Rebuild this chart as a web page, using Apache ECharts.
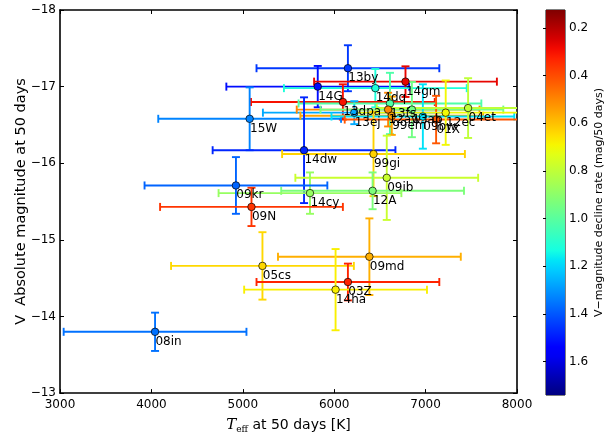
<!DOCTYPE html>
<html><head><meta charset="utf-8">
<script src="https://cdn.jsdelivr.net/npm/echarts@6/dist/echarts.min.js"></script>
<style>html,body{margin:0;padding:0;background:#fff}#c{width:612px;height:439px}</style>
</head><body><div id="c"></div>
<script>
// ---- data ----
const names   = ["13by","14G","14gm","14dq","13dpa","15W","13ej","13fs","12aw","13ab","99em","09bw","01X","12ec","04et","14dw","99gi","09ib","12A","14cy","09kr","09N","05cs","09md","03Z","14ha","08in"];
const teff    = [6150,5820,6780,6450,6095,5075,6220,6610,6590,6850,6630,6970,7115,7220,7465,5670,6430,6575,6420,5735,4925,5095,5215,6385,6150,6015,4040];
const teffErr = [1000,1000,1000,1000,1005,1000,1000,1000,1000,1000,1000,1000,1000,1000,1000,1000,1000,1000,1000,1000,1000,1000,1000,1000,1000,1000,1000];
const mag     = [-17.24,-17.00,-17.065,-16.98,-16.80,-16.58,-16.66,-16.78,-16.70,-16.70,-16.62,-16.61,-16.57,-16.66,-16.72,-16.17,-16.12,-15.81,-15.64,-15.61,-15.71,-15.43,-14.66,-14.78,-14.45,-14.35,-13.80];
const magErr  = [0.30,0.27,0.20,0.25,0.23,0.41,0.15,0.40,0.22,0.36,0.25,0.42,0.31,0.42,0.39,0.69,0.55,0.55,0.24,0.27,0.37,0.25,0.44,0.50,0.24,0.53,0.25];
const rate    = [1.45,1.52,0.27,1.12,0.30,1.33,1.27,1.02,0.50,0.95,0.55,1.18,0.42,0.70,0.80,1.48,0.63,0.78,0.93,0.88,1.38,0.36,0.64,0.57,0.33,0.68,1.36];
const xTicks  = [3000,4000,5000,6000,7000,8000];
const yTicks  = [-18,-17,-16,-15,-14,-13];
const cbTicks = [0.2,0.4,0.6,0.8,1.0,1.2,1.4,1.6];
const cbMin = 0.125, cbMax = 1.74;

// ---- jet colormap ----
function interp(pts, f){
  for (let i=1;i<pts.length;i++){
    if (f<=pts[i][0]){const a=pts[i-1],b=pts[i];return a[1]+(b[1]-a[1])*(f-a[0])/(b[0]-a[0]);}
  }
  return pts[pts.length-1][1];
}
function jet(f){
  const r=interp([[0,0],[0.35,0],[0.66,1],[0.89,1],[1,0.5]],f);
  const g=interp([[0,0],[0.125,0],[0.375,1],[0.64,1],[0.91,0],[1,0]],f);
  const b=interp([[0,0.5],[0.11,1],[0.34,1],[0.65,0],[1,0]],f);
  const h=v=>Math.round(Math.max(0,Math.min(1,v))*255).toString(16).padStart(2,'0');
  return '#'+h(r)+h(g)+h(b);
}
const N=41;
const mapColors=[]; const stops=[];
for(let i=0;i<N;i++){const k=i/(N-1);mapColors.push(jet(1-k));stops.push({offset:k,color:jet(1-k)});}

const data = teff.map((t,i)=>[t,mag[i],rate[i],teffErr[i],magErr[i],names[i]]);
const FONT='DejaVu Sans';
const minus=v=>(v<0?'\u2212':'')+Math.abs(v);

const chart = echarts.init(document.getElementById('c'),null,{renderer:'canvas'});
chart.setOption({
  animation:false,
  backgroundColor:'#fff',
  textStyle:{fontFamily:FONT},
  grid:[
    {left:60,top:10,width:457,height:385,show:false},
    {left:546,top:10,width:19,height:385,show:true,borderColor:'#000',borderWidth:1,backgroundColor:'transparent'}
  ],
  visualMap:{type:'continuous',show:false,min:cbMin,max:cbMax,dimension:2,seriesIndex:[0,1],inRange:{color:mapColors}},
  xAxis:[
    {gridIndex:0,type:'value',min:xTicks[0],max:xTicks[xTicks.length-1],interval:1000,position:'bottom',
     axisLine:{show:true,onZero:false,lineStyle:{color:'#000',width:1.6}},
     axisTick:{show:true,inside:true,length:4,lineStyle:{color:'#000',width:1}},
     axisLabel:{color:'#000',fontSize:12,fontFamily:FONT,margin:6,formatter:v=>String(v)},
     splitLine:{show:false},
     name:'{t|T}{s|eff} at 50 days [K]',nameLocation:'middle',nameGap:11,
     nameTextStyle:{fontSize:14,fontFamily:FONT,color:'#000',lineHeight:18,
       rich:{t:{fontFamily:'DejaVu Serif',fontStyle:'italic',fontSize:15,lineHeight:18,color:'#000'},
             s:{fontFamily:'DejaVu Serif',fontSize:9,lineHeight:11,verticalAlign:'bottom',color:'#000'}}}},
    {gridIndex:0,type:'value',min:xTicks[0],max:xTicks[xTicks.length-1],interval:1000,position:'top',
     axisLine:{show:true,onZero:false,lineStyle:{color:'#000',width:1.6}},
     axisTick:{show:true,inside:true,length:4,lineStyle:{color:'#000',width:1}},
     axisLabel:{show:false},splitLine:{show:false}},
    {gridIndex:1,type:'value',min:0,max:1,show:false}
  ],
  yAxis:[
    {gridIndex:0,type:'value',min:yTicks[0],max:yTicks[yTicks.length-1],interval:1,inverse:true,position:'left',
     axisLine:{show:true,onZero:false,lineStyle:{color:'#000',width:1.6}},
     axisTick:{show:true,inside:true,length:4,lineStyle:{color:'#000',width:1}},
     axisLabel:{color:'#000',fontSize:12,fontFamily:FONT,margin:4,formatter:minus},
     splitLine:{show:false},
     name:'V  Absolute magnitude at 50 days',nameLocation:'middle',nameGap:31,nameRotate:90,nameMoveOverlap:false,
     nameTextStyle:{fontSize:14.5,fontFamily:FONT,color:'#000'}},
    {gridIndex:0,type:'value',min:yTicks[0],max:yTicks[yTicks.length-1],interval:1,inverse:true,position:'right',
     axisLine:{show:true,onZero:false,lineStyle:{color:'#000',width:1.6}},
     axisTick:{show:true,inside:true,length:4,lineStyle:{color:'#000',width:1}},
     axisLabel:{show:false},splitLine:{show:false}},
    {gridIndex:1,type:'value',min:cbMin,max:cbMax,inverse:true,position:'right',
     axisLine:{show:false},
     axisTick:{show:true,inside:true,length:3,customValues:cbTicks,lineStyle:{color:'#000',width:1}},
     axisLabel:{show:true,customValues:cbTicks,color:'#000',fontSize:12,fontFamily:FONT,margin:4,formatter:v=>v.toFixed(1)},
     splitLine:{show:false},
     name:'V\u2212magnitude decline rate (mag/50 days)',nameLocation:'middle',nameGap:29,nameRotate:90,nameMoveOverlap:false,
     nameTextStyle:{fontSize:11,fontFamily:FONT,color:'#000'}}
  ],
  series:[
    {type:'custom',xAxisIndex:0,yAxisIndex:0,clip:true,z:2,
     encode:{x:0,y:1},data:data,
     renderItem:function(params,api){
       const x=api.value(0),y=api.value(1),ex=api.value(3),ey=api.value(4);
       const c=api.visual('color');
       const pL=api.coord([x-ex,y]),pR=api.coord([x+ex,y]),pT=api.coord([x,y-ey]),pB=api.coord([x,y+ey]);
       const cap=4, st={stroke:c,lineWidth:1.9};
       const ln=(x1,y1,x2,y2)=>({type:'line',shape:{x1,y1,x2,y2},style:st});
       return {type:'group',children:[
         ln(pL[0],pL[1],pR[0],pR[1]),
         ln(pT[0],pT[1],pB[0],pB[1]),
         ln(pL[0],pL[1]-cap,pL[0],pL[1]+cap),
         ln(pR[0],pR[1]-cap,pR[0],pR[1]+cap),
         ln(pT[0]-cap,pT[1],pT[0]+cap,pT[1]),
         ln(pB[0]-cap,pB[1],pB[0]+cap,pB[1])
       ]};
     }},
    {type:'scatter',xAxisIndex:0,yAxisIndex:0,z:3,symbol:'circle',symbolSize:7.5,
     encode:{x:0,y:1},data:data,
     itemStyle:{borderColor:'#000',borderWidth:0.7,opacity:1},
     label:{show:true,formatter:p=>p.data[5],position:[4.5,8],align:'left',verticalAlign:'top',
            fontSize:12,fontFamily:FONT,color:'#000'},
     emphasis:{disabled:true}},
    {type:'custom',xAxisIndex:2,yAxisIndex:2,z:1,data:[[0]],
     renderItem:function(params,api){
       const p1=api.coord([0,cbMin]),p2=api.coord([1,cbMax]);
       return {type:'rect',shape:{x:p1[0],y:p1[1],width:p2[0]-p1[0],height:p2[1]-p1[1]},
               style:{fill:new echarts.graphic.LinearGradient(0,0,0,1,stops)}};
     }}
  ]
});
</script></body></html>
